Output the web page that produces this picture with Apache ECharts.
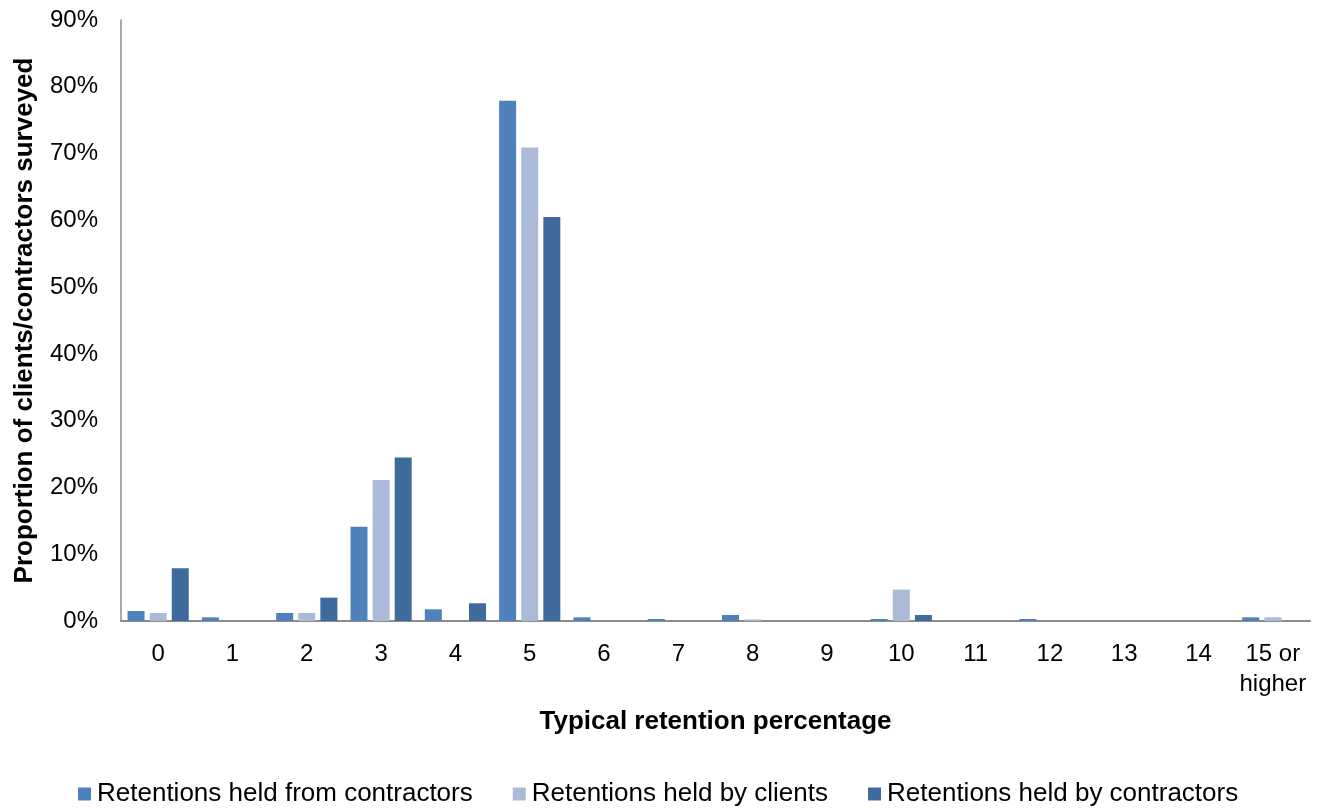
<!DOCTYPE html>
<html>
<head>
<meta charset="utf-8">
<script src="https://cdn.jsdelivr.net/npm/echarts@6/dist/echarts.min.js"></script>
<style>html,body{margin:0;padding:0;background:#fff;}#c{width:1327px;height:808px;}</style>
</head>
<body>
<div id="c"></div>
<script>
const categories = ['0','1','2','3','4','5','6','7','8','9','10','11','12','13','14','15 or\nhigher'];
const heldFromContractors = [1.5, 0.55, 1.2, 14.1, 1.75, 77.9, 0.55, 0.3, 0.9, 0, 0.3, 0, 0.3, 0, 0, 0.55];
const heldByClients =       [1.2, 0, 1.2, 21.1, 0, 70.9, 0, 0, 0.25, 0, 4.7, 0, 0, 0, 0, 0.55];
const heldByContractors =   [7.9, 0, 3.5, 24.5, 2.65, 60.5, 0, 0, 0, 0, 0.9, 0, 0, 0, 0, 0];
const seriesNames = ['Retentions held from contractors','Retentions held by clients','Retentions held by contractors'];
const colors = ['#4F81BD','#AABAD7','#3F6A9C'];

const chart = echarts.init(document.getElementById('c'));
const font = 'Liberation Sans, Arial, sans-serif';
const data = [heldFromContractors, heldByClients, heldByContractors];
chart.setOption({
  animation: false,
  textStyle: {fontFamily: font},
  grid: {left: 121, right: 17, top: 20, bottom: 187},
  legend: {
    top: 776, left: 73,
    data: seriesNames,
    icon: 'rect', itemWidth: 13, itemHeight: 13, itemGap: 40,
    textStyle: {fontSize: 26, color: '#000', fontFamily: font, padding: [0, 0, 0, 1]}
  },
  xAxis: {
    type: 'category', data: categories,
    name: 'Typical retention percentage', nameLocation: 'middle', nameGap: 101,
    nameTextStyle: {fontSize: 26, fontWeight: 'bold', color: '#000', fontFamily: font, verticalAlign: 'middle'},
    axisLine: {lineStyle: {color: '#8c8c8c', width: 2}},
    axisTick: {show: false},
    axisLabel: {fontSize: 24, color: '#000', margin: 18, lineHeight: 30, fontFamily: font, interval: 0}
  },
  yAxis: {
    type: 'value', min: 0, max: 90, interval: 10,
    name: 'Proportion of clients/contractors surveyed', nameLocation: 'middle', nameGap: 96,
    nameTextStyle: {fontSize: 26, fontWeight: 'bold', color: '#000', fontFamily: font, verticalAlign: 'middle'},
    axisLine: {show: true, lineStyle: {color: '#8c8c8c', width: 1.5}},
    axisTick: {show: false},
    splitLine: {show: false},
    axisLabel: {formatter: '{value}%', fontSize: 24, color: '#000', margin: 23, fontFamily: font}
  },
  series: seriesNames.map((n, i) => ({
    name: n, type: 'bar', data: data[i],
    barWidth: 17, barGap: '30%',
    itemStyle: {color: colors[i]}
  }))
});
</script>
</body>
</html>
